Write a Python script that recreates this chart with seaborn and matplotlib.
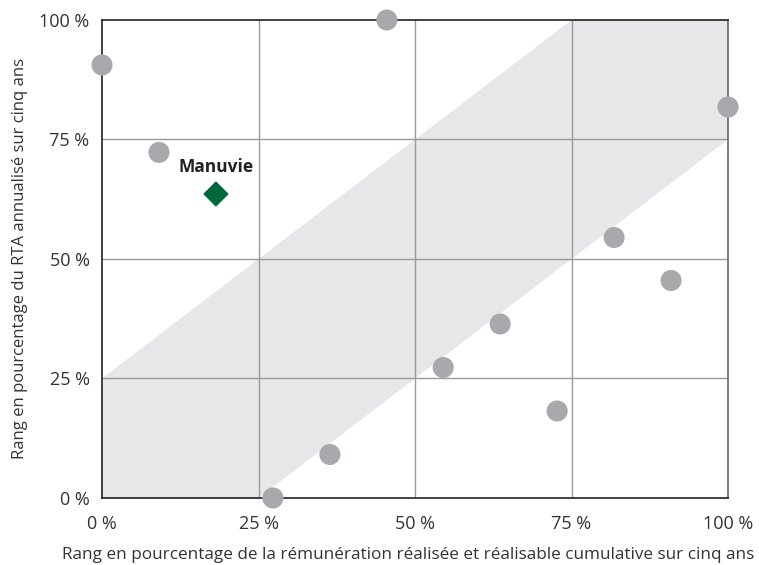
import matplotlib
matplotlib.use("Agg")
import matplotlib.pyplot as plt
import seaborn as sns
import pandas as pd

# rangs en pourcentage des sociétés du groupe de référence
peer_x = [0, 9.1, 45.5, 100, 27.3, 36.4, 54.5, 63.6, 72.7, 81.8, 90.9]
peer_y = [90.6, 72.3, 100, 81.8, 0, 9.1, 27.3, 36.4, 18.2, 54.5, 45.5]
manuvie_x = [18.2]
manuvie_y = [63.6]
manuvie_label = "Manuvie"

# zone d'alignement (+/- 25 %)
band_x = [0, 0, 75, 100, 100, 25]
band_y = [0, 25, 100, 100, 75, 0]

ticks = [0, 25, 50, 75, 100]
tick_labels = ["0 %", "25 %", "50 %", "75 %", "100 %"]

sns.set_style("white")
plt.rcParams['font.family'] = ['Open Sans', 'DejaVu Sans']

fig = plt.figure(figsize=(7.59, 5.65), dpi=100)
ax = fig.add_axes([0.1344, 0.1186, 0.8248, 0.846])

ax.fill(band_x, band_y, color="#e6e7e8", zorder=0, lw=0)
for t in ticks[1:-1]:
    ax.axvline(t, color="#9a9a9a", lw=1, zorder=1)
    ax.axhline(t, color="#9a9a9a", lw=1, zorder=1)

peers = pd.DataFrame({"x": peer_x, "y": peer_y})
sns.scatterplot(data=peers, x="x", y="y", ax=ax, color="#a7a9ac", s=230,
                edgecolor="none", zorder=3, clip_on=False)
mf = pd.DataFrame({"x": manuvie_x, "y": manuvie_y})
sns.scatterplot(data=mf, x="x", y="y", ax=ax, color="#00693c", marker="D",
                s=170, edgecolor="none", zorder=4, clip_on=False)
ax.text(manuvie_x[0], manuvie_y[0] + 3.8, manuvie_label, ha="center",
        va="bottom", fontsize=12.5, fontweight="bold", color="#222222")

ax.set_xlim(0, 100)
ax.set_ylim(0, 100)
ax.set_xticks(ticks)
ax.set_xticklabels(tick_labels)
ax.set_yticks(ticks)
ax.set_yticklabels(tick_labels)
ax.tick_params(length=0, labelsize=13, colors="#333333")
ax.tick_params(axis="x", pad=12)
ax.tick_params(axis="y", pad=9)
ax.set_xlabel("Rang en pourcentage de la rémunération réalisée et réalisable cumulative sur cinq ans",
              fontsize=12.3, color="#333333")
ax.xaxis.set_label_coords(0.489, -0.103)
ax.set_ylabel("Rang en pourcentage du RTA annualisé sur cinq ans",
              fontsize=12, color="#333333", labelpad=8)

for side in ["left", "bottom", "top"]:
    ax.spines[side].set_color("#222222")
    ax.spines[side].set_linewidth(1.2)
ax.spines["right"].set_color("#666666")
ax.spines["right"].set_linewidth(1.2)

plt.savefig("out.png", dpi=100)
